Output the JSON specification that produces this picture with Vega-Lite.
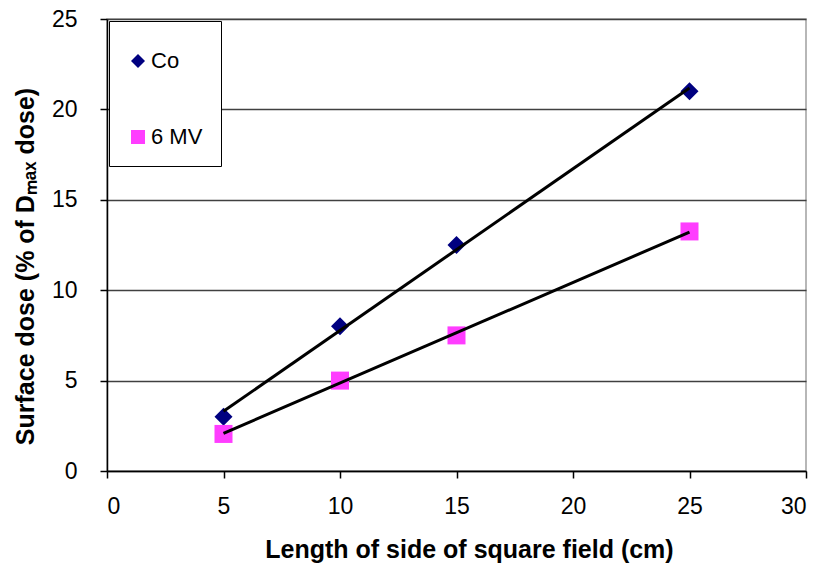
{
  "$schema": "https://vega.github.io/schema/vega-lite/v6.json",
  "width": 699,
  "height": 452,
  "autosize": {"type": "none"},
  "padding": {"left": 107, "top": 19, "right": 12, "bottom": 94},
  "background": "white",
  "config": {
    "font": "Liberation Sans",
    "view": {"stroke": "#a0a0a0", "strokeWidth": 1.5},
    "axis": {
      "labelFont": "Liberation Sans",
      "labelFontSize": 23,
      "labelColor": "black",
      "titleFont": "Liberation Sans",
      "titleFontSize": 25,
      "titleFontWeight": "bold",
      "titleColor": "black",
      "domainColor": "black",
      "domainWidth": 1.5,
      "tickColor": "black",
      "tickWidth": 1.5,
      "tickSize": 7
    }
  },
  "data": {
    "values": [
      {"series": "Co", "size": 5, "dose": 3.0},
      {"series": "Co", "size": 10, "dose": 8.0},
      {"series": "Co", "size": 15, "dose": 12.5},
      {"series": "Co", "size": 25, "dose": 21.0},
      {"series": "6 MV", "size": 5, "dose": 2.05},
      {"series": "6 MV", "size": 10, "dose": 5.0},
      {"series": "6 MV", "size": 15, "dose": 7.5},
      {"series": "6 MV", "size": 25, "dose": 13.25}
    ]
  },
  "layer": [
    {
      "mark": {"type": "point", "filled": true, "opacity": 1, "size": 324},
      "encoding": {
        "x": {
          "field": "size", "type": "quantitative",
          "scale": {"domain": [0, 30], "nice": false},
          "axis": {"values": [0, 5, 10, 15, 20, 25, 30], "grid": false, "labelPadding": 17, "titlePadding": 19,
                   "titleX": 362,
                   "title": "Length of side of square field (cm)"}
        },
        "y": {
          "field": "dose", "type": "quantitative",
          "scale": {"domain": [0, 25], "nice": false},
          "axis": {"values": [0, 5, 10, 15, 20, 25], "grid": true, "gridColor": "#404040", "gridWidth": 1.5,
                   "labelPadding": 23, "titlePadding": 13, "titleY": 247,
                   "title": "Surface dose (% of Dₘₐₓ dose)"}
        },
        "color": {
          "field": "series", "type": "nominal",
          "scale": {"domain": ["Co", "6 MV"], "range": ["#000080", "#ff3dff"]},
          "legend": {
            "orient": "top-left", "offset": 2, "title": " ", "titleFontSize": 9, "titlePadding": 2,
            "padding": 18, "rowPadding": 54, "labelFontSize": 22, "labelFont": "Liberation Sans",
            "labelColor": "black", "labelOffset": 2, "symbolSize": 196,
            "strokeColor": "black", "fillColor": "white", "symbolType": "diamond"
          }
        },
        "shape": {
          "field": "series", "type": "nominal",
          "scale": {"domain": ["Co", "6 MV"], "range": ["diamond", "square"]},
          "legend": null
        }
      }
    },
    {
      "transform": [
        {"regression": "dose", "on": "size", "groupby": ["series"], "extent": [5, 25]}
      ],
      "mark": {"type": "line", "color": "black", "strokeWidth": 3},
      "encoding": {
        "x": {"field": "size", "type": "quantitative"},
        "y": {"field": "dose", "type": "quantitative"},
        "detail": {"field": "series", "type": "nominal"}
      }
    }
  ]
}
